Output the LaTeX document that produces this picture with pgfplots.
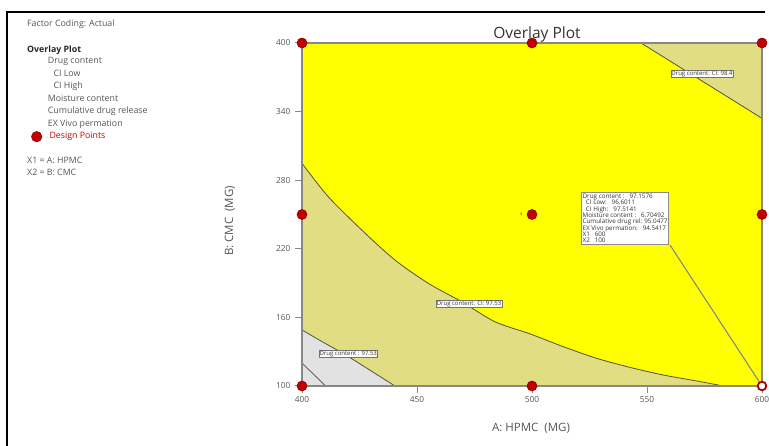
\documentclass[border=0pt]{standalone}
\usepackage{fontspec}
\setmainfont{Open Sans}
\usepackage{pgfplots}
\pgfplotsset{compat=1.18}
\definecolor{yl}{RGB}{255,255,0}
\definecolor{kh}{RGB}{224,221,130}
\definecolor{lg}{RGB}{226,226,226}
\definecolor{bd}{RGB}{85,85,60}
\definecolor{dr}{RGB}{192,0,0}
\definecolor{axg}{RGB}{135,135,135}
\definecolor{txt}{RGB}{85,85,85}
\begin{document}
\begin{tikzpicture}[x=1pt,y=1pt]
\useasboundingbox (0,0) rectangle (769,446);
\draw[line width=2pt] (7,0) -- (7,434) -- (765,434);
% left panel
\begin{scope}[every node/.style={anchor=base west, inner sep=0pt, text=txt, font=\fontsize{8.8}{9}\selectfont}]
\node at (27,419.3) {Factor Coding: Actual};
\node[text=black!85, font=\fontsize{8.8}{9}\selectfont\bfseries] at (27,393.3) {Overlay Plot};
\node at (47.7,382.3) {Drug content};
\node at (53.3,369.3) {CI Low};
\node at (53.3,357) {CI High};
\node at (47.7,344.3) {Moisture content};
\node at (47.7,332) {Cumulative drug release};
\node at (47.7,319.3) {EX Vivo permation};
\node[text=dr] at (49.3,307) {Design Points};
\node at (27,282) {X1 = A: HPMC};
\node at (27,270) {X2 = B: CMC};
\end{scope}
\fill[dr, draw=dr!70!black] (36.7,309.3) circle (5.3);
\node[anchor=base, font=\fontsize{15.5}{16}\selectfont, text=black!80, inner sep=0pt] at (537,407.5) {Overlay Plot};
\node[anchor=base, font=\fontsize{11.5}{12}\selectfont, text=txt, inner sep=0pt] at (531,14) {A: HPMC\ \ (MG)};
\node[anchor=base, rotate=90, font=\fontsize{11.5}{12}\selectfont, text=txt, inner sep=0pt] at (233,225) {B: CMC\ \ (MG)};
\begin{axis}[at={(302pt,60pt)}, anchor=south west, scale only axis, width=460pt, height=343pt,
  xmin=400, xmax=600, ymin=100, ymax=400, clip=false,
  xtick={400,450,500,550,600}, ytick={100,160,220,280,340,400},
  xtick pos=left, ytick pos=left, tick align=outside, major tick length=7pt,
  tick style={axg, line width=1pt},
  axis line style={draw=none},
  /pgf/number format/assume math mode=true,
  ticklabel style={font=\fontsize{8.3}{9}\selectfont, text=txt},
  yticklabel style={xshift=-1pt}]
\addplot[fill=yl, draw=none] coordinates {(400,100) (400,400) (600,400) (600,100)} -- cycle;
\addplot[fill=kh, draw=none] coordinates {(400,100) (400,294.8) (411.4,265.6) (426,236.4) (440.4,210.2) (454.9,189.8) (469.4,173.7) (483.9,156.2) (499.1,145.6) (513.6,134.4) (528.1,124.2) (542.6,116.3) (557.1,109.6) (571.6,104.4) (583.2,100)} -- cycle;
\addplot[fill=kh, draw=none] coordinates {(547.4,400) (600,400) (600,334.1)} -- cycle;
\addplot[fill=lg, draw=none] coordinates {(400,100) (400,149) (409,138.5) (418.7,127.5) (429,114.5) (440.4,100)} -- cycle;
% contour boundaries
\addplot[bd, line width=0.8pt, smooth] coordinates {(400,294.8) (411.4,265.6) (426,236.4) (440.4,210.2) (454.9,189.8) (469.4,173.7) (483.9,156.2) (499.1,145.6) (513.6,134.4) (528.1,124.2) (542.6,116.3) (557.1,109.6) (571.6,104.4) (583.2,100)};
\addplot[bd, line width=0.8pt] coordinates {(547.4,400) (600,334.1)};
\addplot[bd, line width=0.8pt, smooth] coordinates {(400,149) (409,138.5) (418.7,127.5) (429,114.5) (440.4,100)};
\addplot[black!60, line width=0.9pt] coordinates {(400,120) (410.3,100)};
% flag pointer
\addplot[axg, line width=1.1pt] coordinates {(560,223.3) (600,100)};
% frame
\addplot[axg, line width=1.3pt] coordinates {(400,100) (400,400) (600,400) (600,100)} -- cycle;
% design points
\addplot[only marks, mark=*, mark size=5pt, mark options={fill=dr, draw=dr!75!black, line width=0.6pt}] coordinates {(400,100) (400,250) (400,400) (500,100) (500,250) (500,400) (600,400) (600,250)};
\addplot[only marks, mark=*, mark size=4.3pt, mark options={fill=white, draw=dr!85!black, line width=1.8pt}] coordinates {(600,100)};
% labels
\node[font=\fontsize{4}{4}\selectfont, text=black!70, inner sep=0pt] at (axis cs:495.3,250.5) {4};
\begin{scope}[every node/.style={draw=black!55, fill=white, inner sep=0.6pt, line width=0.5pt, font=\fontsize{6}{6}\selectfont, text=black!80}]
\node at (axis cs:573.9,372.9) {Drug content: CI: 98.4};
\node at (axis cs:472.6,172) {Drug content: CI: 97.53};
\node at (axis cs:420.1,127.8) {Drug content : 97.53};
\node[anchor=north west, align=left, inner sep=1.2pt, font=\fontsize{6.3}{6.35}\selectfont, line width=0.9pt, draw=black!45] at (axis cs:521.3,269.4) {Drug content :\ \ \ 97.1576\\
\ \ CI Low:\ \ \ 96.6011\\
\ \ CI High:\ \ \ 97.5141\\
Moisture content :\ \ \ 6.70492\\
Cumulative drug rel: 95.0477\\
EX Vivo permation:\ \ \ 94.5417\\
X1\ \ \ 600\\
X2\ \ \ 100};
\end{scope}
\end{axis}
\end{tikzpicture}
\end{document}
